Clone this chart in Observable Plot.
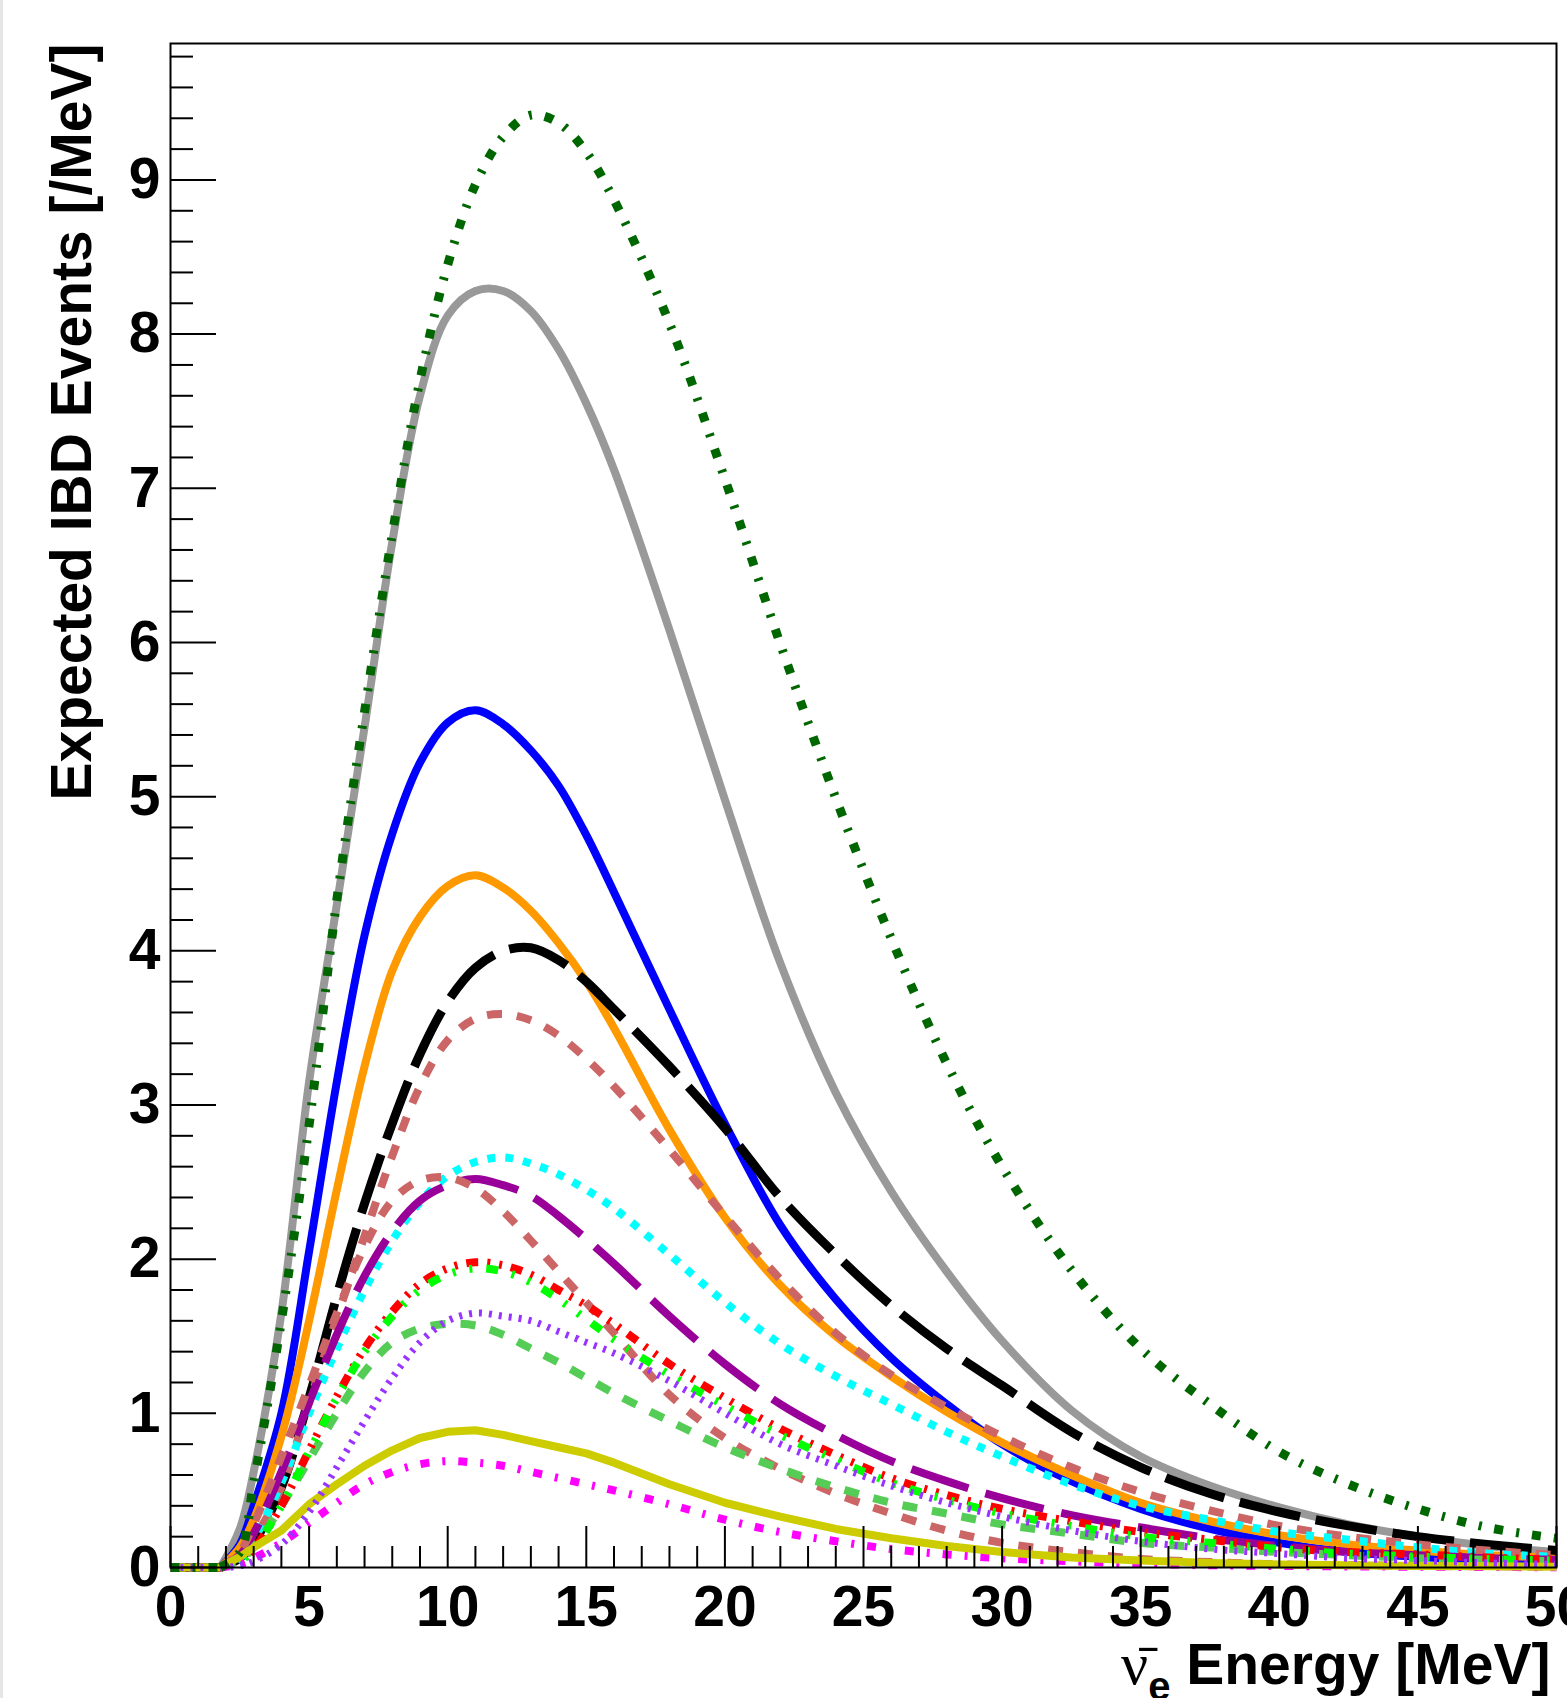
<!DOCTYPE html>
<html>
<head>
<meta charset="utf-8">
<script src="https://cdn.jsdelivr.net/npm/d3@7"></script>
<script src="https://cdn.jsdelivr.net/npm/@observablehq/plot@0.6"></script>
<style>
html, body { margin: 0; padding: 0; background: #fff; overflow: hidden; }
#strip { position: absolute; left: 0; top: 0; width: 3px; height: 1698px; background: #e6e6e6; }
</style>
</head>
<body>
<div id="chart"></div>
<div id="strip"></div>
<script>
// ---------- data ----------
const energy = [0, 1.8, 2.5, 3, 4, 5, 6, 7, 8, 9, 10, 11, 12, 13, 14, 15, 16, 18, 20, 22, 24, 26, 28, 30, 32.5, 35, 37.5, 40, 42.5, 45, 47.5, 50];

const darkGreen  = [0, 0, 0.10, 0.55, 1.60, 2.87, 4.33, 5.55, 6.70, 7.70, 8.45, 8.97, 9.28, 9.42, 9.37, 9.18, 8.87, 8.07, 7.06, 5.99, 4.99, 4.08, 3.27, 2.60, 1.93, 1.42, 1.06, 0.75, 0.54, 0.38, 0.26, 0.19];
const grey       = [0, 0, 0.25, 0.62, 1.65, 3.15, 4.30, 5.45, 6.65, 7.60, 8.12, 8.28, 8.28, 8.15, 7.90, 7.55, 7.12, 6.08, 4.98, 3.92, 3.08, 2.44, 1.92, 1.47, 1.02, 0.72, 0.53, 0.39, 0.28, 0.20, 0.14, 0.10];
const blue       = [0, 0, 0.15, 0.40, 1.00, 2.05, 3.15, 4.10, 4.76, 5.22, 5.48, 5.56, 5.47, 5.30, 5.07, 4.75, 4.38, 3.62, 2.88, 2.22, 1.74, 1.36, 1.06, 0.80, 0.56, 0.38, 0.25, 0.16, 0.10, 0.07, 0.045, 0.035];
const orange     = [0, 0, 0.13, 0.31, 0.85, 1.60, 2.45, 3.25, 3.87, 4.22, 4.42, 4.49, 4.41, 4.26, 4.05, 3.80, 3.50, 2.84, 2.27, 1.83, 1.50, 1.24, 1.01, 0.81, 0.60, 0.42, 0.30, 0.21, 0.15, 0.11, 0.08, 0.065];
const black      = [0, 0, 0.06, 0.16, 0.52, 1.10, 1.76, 2.36, 2.88, 3.33, 3.67, 3.89, 4.00, 4.02, 3.94, 3.80, 3.62, 3.25, 2.85, 2.40, 2.03, 1.70, 1.42, 1.18, 0.88, 0.65, 0.48, 0.36, 0.27, 0.20, 0.15, 0.11];
const indianRedA = [0, 0, 0.06, 0.18, 0.52, 1.07, 1.62, 2.15, 2.67, 3.12, 3.42, 3.56, 3.59, 3.55, 3.45, 3.30, 3.12, 2.71, 2.28, 1.87, 1.52, 1.25, 1.04, 0.85, 0.65, 0.49, 0.37, 0.27, 0.20, 0.15, 0.11, 0.08];
const cyan       = [0, 0, 0.06, 0.18, 0.55, 1.00, 1.42, 1.80, 2.12, 2.37, 2.54, 2.63, 2.66, 2.62, 2.55, 2.45, 2.33, 2.03, 1.72, 1.45, 1.24, 1.06, 0.88, 0.72, 0.54, 0.40, 0.31, 0.23, 0.18, 0.13, 0.09, 0.07];
const purple     = [0, 0, 0.08, 0.22, 0.62, 1.07, 1.51, 1.89, 2.18, 2.38, 2.48, 2.52, 2.48, 2.41, 2.28, 2.13, 1.97, 1.63, 1.32, 1.06, 0.86, 0.69, 0.56, 0.45, 0.34, 0.26, 0.19, 0.14, 0.10, 0.08, 0.06, 0.05];
const indianRedB = [0, 0, 0.10, 0.28, 0.72, 1.18, 1.65, 2.08, 2.38, 2.51, 2.53, 2.46, 2.31, 2.12, 1.92, 1.72, 1.52, 1.12, 0.84, 0.64, 0.48, 0.35, 0.24, 0.16, 0.10, 0.055, 0.035, 0.02, 0.015, 0.01, 0.008, 0.005];
const red        = [0, 0, 0.04, 0.12, 0.40, 0.76, 1.11, 1.42, 1.66, 1.84, 1.94, 1.98, 1.96, 1.90, 1.80, 1.70, 1.58, 1.32, 1.10, 0.90, 0.73, 0.58, 0.47, 0.38, 0.30, 0.23, 0.18, 0.13, 0.10, 0.085, 0.065, 0.05];
const lime       = [0, 0, 0.04, 0.12, 0.40, 0.75, 1.10, 1.40, 1.63, 1.80, 1.90, 1.94, 1.92, 1.85, 1.74, 1.61, 1.48, 1.25, 1.05, 0.86, 0.70, 0.55, 0.44, 0.35, 0.27, 0.20, 0.16, 0.12, 0.09, 0.07, 0.055, 0.045];
const violet     = [0, 0, 0.01, 0.04, 0.15, 0.36, 0.65, 0.95, 1.23, 1.46, 1.60, 1.65, 1.63, 1.60, 1.53, 1.46, 1.39, 1.21, 1.00, 0.80, 0.66, 0.53, 0.42, 0.33, 0.24, 0.17, 0.12, 0.09, 0.06, 0.045, 0.03, 0.02];
const lightGreen = [0, 0, 0.05, 0.13, 0.40, 0.70, 1.00, 1.27, 1.46, 1.55, 1.58, 1.57, 1.51, 1.42, 1.33, 1.23, 1.13, 0.95, 0.78, 0.64, 0.52, 0.42, 0.35, 0.28, 0.22, 0.16, 0.13, 0.10, 0.08, 0.06, 0.05, 0.04];
const olive      = [0, 0, 0.07, 0.13, 0.24, 0.41, 0.54, 0.66, 0.76, 0.84, 0.88, 0.89, 0.86, 0.82, 0.78, 0.74, 0.68, 0.54, 0.42, 0.33, 0.25, 0.19, 0.14, 0.10, 0.065, 0.045, 0.03, 0.02, 0.015, 0.01, 0.008, 0.005];
const magenta    = [0, 0, 0.02, 0.06, 0.16, 0.29, 0.42, 0.54, 0.62, 0.67, 0.69, 0.68, 0.66, 0.62, 0.58, 0.54, 0.50, 0.41, 0.31, 0.23, 0.17, 0.12, 0.085, 0.06, 0.04, 0.025, 0.015, 0.01, 0.007, 0.005, 0.003, 0.002];

const threshold = 1.8; // energy below which every spectrum is zero

const xMajorTicks = [0, 5, 10, 15, 20, 25, 30, 35, 40, 45, 50];
const xMinorTicks = d3.range(0, 51).filter(v => v % 5 !== 0);
const yMajorTicks = [0, 1, 2, 3, 4, 5, 6, 7, 8, 9];
const yMinorTicks = d3.range(1, 50).filter(i => i % 5 !== 0).map(i => i / 5);

const xTitle = "ν̄e Energy [MeV]";
const yTitle = "Expected IBD Events [/MeV]";

// ---------- styles (draw order) ----------
const seriesList = [
  {values: grey,       stroke: "#999999", width: 8, dash: null, curve: "catmull-rom"},
  {values: blue,       stroke: "#0000ff", width: 8, dash: null, curve: "catmull-rom"},
  {values: orange,     stroke: "#ff9900", width: 8, dash: null, curve: "catmull-rom"},
  {values: black,      stroke: "#000000", width: 9, dash: "62,16", curve: "catmull-rom"},
  {values: indianRedA, stroke: "#cc6666", width: 8, dash: "15,15", curve: "catmull-rom"},
  {values: cyan,       stroke: "#00ffff", width: 8, dash: "8,10", curve: "catmull-rom"},
  {values: purple,     stroke: "#990099", width: 8, dash: "60,18", curve: "catmull-rom"},
  {values: indianRedB, stroke: "#cc6666", width: 8, dash: "15,15", curve: "catmull-rom"},
  {values: lightGreen, stroke: "#55cc55", width: 8, dash: "15,15", curve: "catmull-rom"},
  {values: red,        stroke: "#ff0000", width: 8, dash: "12,9,3,9,3,9", curve: "catmull-rom"},
  {values: lime,       stroke: "#00ff00", width: 8, dash: "12,14,3,14,3,14", curve: "catmull-rom"},
  {values: magenta,    stroke: "#ff00ff", width: 8, dash: "9,13,3,13", curve: "catmull-rom"},
  {values: olive,      stroke: "#cccc00", width: 8, dash: null, curve: "linear"},
  {values: violet,     stroke: "#9933ff", width: 7, dash: "3,7", curve: "catmull-rom"},
  {values: darkGreen,  stroke: "#006600", width: 9, dash: "9,13,3,13", curve: "catmull-rom"}
];

const W = 1567, H = 1698;
const mL = 170, mR = 11, mT = 43, mB = 131;
const innerW = W - mL - mR, innerH = H - mT - mB;

const lineMarks = seriesList.flatMap(s => {
  const rows = energy.map((e, i) => ({e, v: s.values[i]}));
  const common = {x: "e", y: "v", stroke: s.stroke, strokeWidth: s.width,
    strokeDasharray: s.dash || undefined, strokeLinecap: "butt", strokeLinejoin: "round"};
  return [
    Plot.line(rows.filter(d => d.e <= threshold), {...common, curve: "linear"}),
    Plot.line(rows.filter(d => d.e >= threshold), {...common, curve: s.curve})
  ];
});

const chart = Plot.plot({
  width: W, height: H,
  marginLeft: mL, marginRight: mR, marginTop: mT, marginBottom: mB,
  style: {fontFamily: "'Liberation Sans', Arial, Helvetica, sans-serif", fontSize: "57px", fontWeight: "bold", background: "white", color: "black"},
  x: {domain: [0, 50]},
  y: {domain: [0, 9.885]},
  marks: [
    ...lineMarks,
    Plot.tickY(yMinorTicks, {y: d => d, insetRight: innerW - 23, stroke: "black", strokeWidth: 2}),
    Plot.tickY(yMajorTicks, {y: d => d, insetRight: innerW - 46, stroke: "black", strokeWidth: 2}),
    Plot.tickX(xMinorTicks, {x: d => d, insetTop: innerH - 21, stroke: "black", strokeWidth: 2}),
    Plot.tickX(xMajorTicks, {x: d => d, insetTop: innerH - 41, stroke: "black", strokeWidth: 2}),
    Plot.frame({stroke: "black", strokeWidth: 2}),
    Plot.axisX({ticks: xMajorTicks, tickSize: 0, tickPadding: 18, label: null, fontSize: 57, fontWeight: "bold"}),
    Plot.axisY({ticks: yMajorTicks, tickSize: 0, tickPadding: 10, label: null, fontSize: 57, fontWeight: "bold"}),
    Plot.text([yTitle], {text: d => d, frameAnchor: "top-left", rotate: -90, textAnchor: "end", dx: -120, dy: 0, fontSize: 57, fontWeight: "bold"}),
    Plot.text([xTitle], {text: d => d, frameAnchor: "bottom-right", textAnchor: "end", dx: -6, dy: 116, fontSize: 57, fontWeight: "bold", className: "xtitle"})
  ]
});

document.getElementById("chart").appendChild(chart);

// Rich formatting of the x title: nu-bar with subscript e
const t = d3.select(chart).select("g.xtitle text");
if (!t.empty()) {
  t.text(null);
  t.append("tspan").attr("font-family", "'Liberation Serif', 'DejaVu Serif', serif").attr("font-weight", "normal").attr("font-size", "60px").text("ν\u0304");
  t.append("tspan").attr("font-size", "40px").attr("dy", 16).text("e");
  t.append("tspan").attr("dy", -16).text(" Energy [MeV]");
}
</script>
</body>
</html>
